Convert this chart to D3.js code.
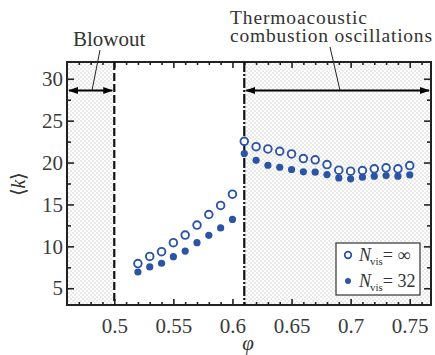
<!DOCTYPE html>
<html><head><meta charset="utf-8">
<script src="https://cdn.jsdelivr.net/npm/d3@7"></script>
<style>body{margin:0;background:#fff}svg{display:block}</style>
</head><body>
<svg id="c" width="435" height="355" font-family="Liberation Serif"></svg>
<script>
const phi = [0.52,0.53,0.54,0.55,0.56,0.57,0.58,0.59,0.60,0.61,0.62,0.63,0.64,0.65,0.66,0.67,0.68,0.69,0.70,0.71,0.72,0.73,0.74,0.75];
const kInf = [7.94,8.8,9.36,10.44,11.35,12.54,13.8,14.88,16.23,22.54,21.9,21.63,21.35,21.03,20.48,20.32,19.76,19.09,18.97,19.05,19.25,19.37,19.25,19.64];
const k32 = [6.94,7.54,7.98,8.77,9.44,10.44,11.31,12.2,13.21,21.07,20.27,19.68,19.44,19.17,18.89,18.85,18.57,18.17,18.06,18.25,18.37,18.45,18.37,18.53];
const xMajor = [0.5,0.55,0.6,0.65,0.7,0.75];
const xMajorLabels = ["0.5","0.55","0.6","0.65","0.7","0.75"];
const yMajor = [5,10,15,20,25,30];
const blowoutEdge = 0.5, thermoEdge = 0.61, arrowK = 28.6;

const FF = "Liberation Serif";
const svg = d3.select("#c");
const L=67,R=431,T=62,B=305;
const x = d3.scaleLinear().domain([0.46,0.768]).range([L,R]);
const y = d3.scaleLinear().domain([3,32]).range([B,T]);
const blue = "#2c54a6";

const defs = svg.append("defs");
const pat = defs.append("pattern").attr("id","dots").attr("patternUnits","userSpaceOnUse").attr("width",4).attr("height",4);
pat.append("circle").attr("cx",1).attr("cy",1).attr("r",0.8).attr("fill","#cfcfcf");
pat.append("circle").attr("cx",3).attr("cy",3).attr("r",0.8).attr("fill","#cfcfcf");
defs.append("marker").attr("id","ah").attr("viewBox","0 0 10 10").attr("refX",9).attr("refY",5)
  .attr("markerWidth",5).attr("markerHeight",5).attr("orient","auto-start-reverse").attr("markerUnits","strokeWidth")
  .append("path").attr("d","M0,1.5 L10,5 L0,8.5 z").attr("fill","#000");

// shaded regions
svg.append("rect").attr("x",L).attr("y",T).attr("width",x(blowoutEdge)-L).attr("height",B-T).attr("fill","url(#dots)");
svg.append("rect").attr("x",x(thermoEdge)).attr("y",T).attr("width",R-x(thermoEdge)).attr("height",B-T).attr("fill","url(#dots)");

// axes ticks (inward, mirrored)
const g = svg.append("g");
const xMinor = d3.range(47,77).map(d=>d/100).filter(d=>!xMajor.some(m=>Math.abs(m-d)<1e-6));
const yMinor = [7.5,12.5,17.5,22.5,27.5];
const axB = d3.axisBottom(x).tickValues(xMajor).tickFormat((d,i)=>xMajorLabels[i]).tickSizeInner(-6).tickSizeOuter(0).tickPadding(13);
const gb = g.append("g").attr("transform",`translate(0,${B})`).call(axB);
gb.append("g").call(d3.axisBottom(x).tickValues(xMinor).tickSize(-3).tickFormat(""));
const gt = g.append("g").attr("transform",`translate(0,${T})`).call(d3.axisTop(x).tickValues(xMajor).tickSize(-6).tickFormat(""));
gt.append("g").call(d3.axisTop(x).tickValues(xMinor).tickSize(-3).tickFormat(""));
const gl = g.append("g").attr("transform",`translate(${L},0)`).call(d3.axisLeft(y).tickValues(yMajor).tickSizeInner(-7).tickSizeOuter(0).tickPadding(4));
gl.append("g").call(d3.axisLeft(y).tickValues(yMinor).tickSize(-4).tickFormat(""));
const gr = g.append("g").attr("transform",`translate(${R},0)`).call(d3.axisRight(y).tickValues(yMajor).tickSize(-7).tickFormat(""));
gr.append("g").call(d3.axisRight(y).tickValues(yMinor).tickSize(-4).tickFormat(""));
g.selectAll(".domain").remove();
g.selectAll("g").attr("font-family",FF);
g.selectAll(".tick line").attr("stroke","#222").attr("stroke-width",1.6);
g.selectAll(".tick text").attr("font-size",21).attr("fill","#3a3a3a").attr("font-family",FF);

// frame
svg.append("rect").attr("x",L).attr("y",T).attr("width",R-L).attr("height",B-T).attr("fill","none").attr("stroke","#222").attr("stroke-width",2);

// boundary lines
svg.append("line").attr("x1",x(blowoutEdge)).attr("x2",x(blowoutEdge)).attr("y1",T).attr("y2",B)
  .attr("stroke","#111").attr("stroke-width",2.2).attr("stroke-dasharray","8,3");
svg.append("line").attr("x1",x(thermoEdge)).attr("x2",x(thermoEdge)).attr("y1",T).attr("y2",B)
  .attr("stroke","#111").attr("stroke-width",2.2).attr("stroke-dasharray","10,2,2,2");

// arrows
svg.append("line").attr("x1",L+2).attr("x2",x(blowoutEdge)-2).attr("y1",y(arrowK)).attr("y2",y(arrowK))
  .attr("stroke","#000").attr("stroke-width",2).attr("marker-start","url(#ah)").attr("marker-end","url(#ah)");
svg.append("line").attr("x1",x(thermoEdge)+2).attr("x2",R-2).attr("y1",y(arrowK)).attr("y2",y(arrowK))
  .attr("stroke","#000").attr("stroke-width",2).attr("marker-start","url(#ah)").attr("marker-end","url(#ah)");

// annotations
svg.append("text").attr("x",73).attr("y",46).attr("font-family",FF).attr("font-size",21).attr("fill","#333").text("Blowout");
svg.append("line").attr("x1",100).attr("y1",50).attr("x2",92).attr("y2",y(arrowK)).attr("stroke","#222").attr("stroke-width",1);
svg.append("text").attr("x",230).attr("y",24).attr("font-family",FF).attr("font-size",19.5).attr("fill","#333").attr("textLength",137).text("Thermoacoustic");
svg.append("text").attr("x",230).attr("y",42).attr("font-family",FF).attr("font-size",19.5).attr("fill","#333").attr("textLength",202).text("combustion oscillations");
svg.append("line").attr("x1",330).attr("y1",47).attr("x2",340).attr("y2",y(arrowK)).attr("stroke","#222").attr("stroke-width",1);

// data
svg.append("g").selectAll("circle").data(phi).join("circle")
  .attr("cx",d=>x(d)).attr("cy",(d,i)=>y(kInf[i])).attr("r",3.8).attr("fill","#fff").attr("stroke",blue).attr("stroke-width",1.9);
svg.append("g").selectAll("circle").data(phi).join("circle")
  .attr("cx",d=>x(d)).attr("cy",(d,i)=>y(k32[i])).attr("r",3.6).attr("fill",blue);

// legend
const lg = svg.append("g");
lg.append("rect").attr("x",336).attr("y",243).attr("width",84).attr("height",52).attr("fill","#fff").attr("stroke","#333").attr("stroke-width",1.2);
lg.append("circle").attr("cx",348).attr("cy",255).attr("r",3.3).attr("fill","#fff").attr("stroke",blue).attr("stroke-width",1.7);
lg.append("circle").attr("cx",348).attr("cy",281).attr("r",3).attr("fill",blue);
function legText(yy, val){
  const t = lg.append("text").attr("x",359).attr("y",yy).attr("font-family",FF).attr("font-size",18).attr("fill","#333");
  t.append("tspan").attr("font-style","italic").text("N");
  t.append("tspan").attr("font-size",11).attr("dy",4).attr("dx",-1).text("vis");
  t.append("tspan").attr("dy",-4).text("= " + val);
}
legText(261,"∞");
legText(287,"32");

// axis labels
const yl = svg.append("text").attr("transform","translate(25,184) rotate(-90)").attr("text-anchor","middle").attr("font-family",FF).attr("font-size",20).attr("fill","#333");
yl.append("tspan").text("⟨");
yl.append("tspan").attr("font-style","italic").text("k");
yl.append("tspan").text("⟩");
svg.append("text").attr("x",248).attr("y",350).attr("text-anchor","middle").attr("font-family",FF).attr("font-size",21).attr("font-style","italic").attr("fill","#333").text("φ");
</script>
</body></html>
